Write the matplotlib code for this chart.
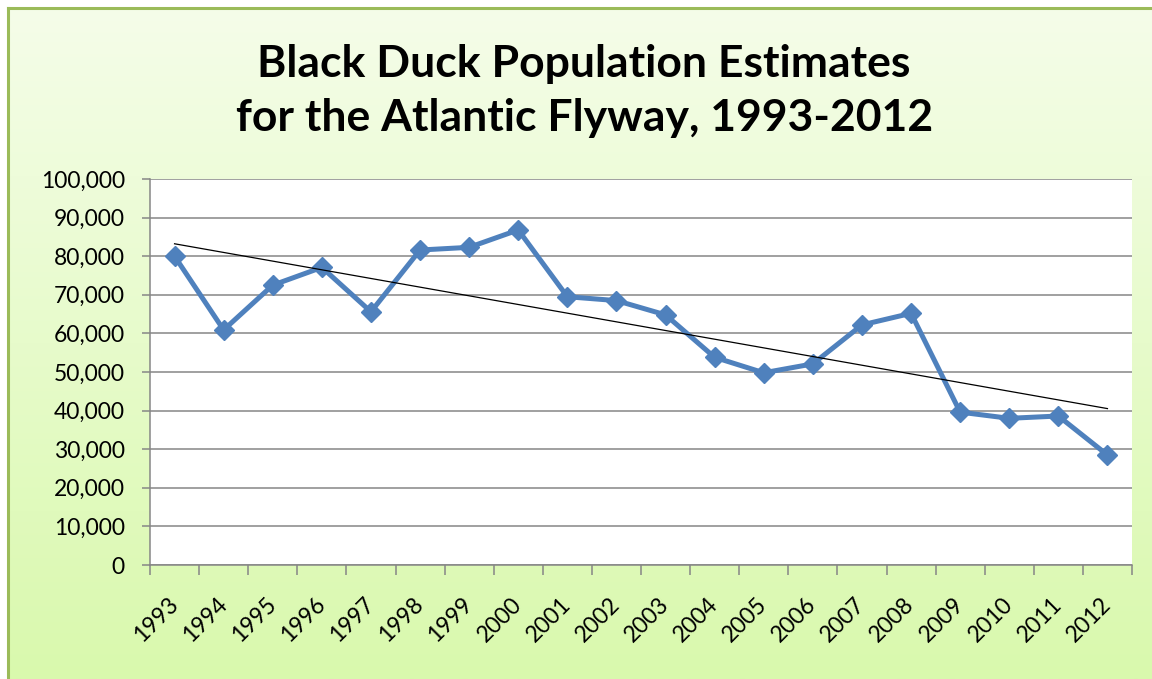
import numpy as np
import matplotlib.pyplot as plt
import matplotlib.ticker as mticker
import matplotlib.transforms as mtransforms
from matplotlib.colors import LinearSegmentedColormap

# ── Dati ──────────────────────────────────────────────────────────────────────
years = ['1993', '1994', '1995', '1996', '1997', '1998', '1999', '2000', '2001', '2002',
         '2003', '2004', '2005', '2006', '2007', '2008', '2009', '2010', '2011', '2012']
population = [80000, 60900, 72500, 77100, 65600, 81600, 82300, 86800, 69500, 68500,
              64800, 53800, 49800, 52100, 62200, 65200, 39600, 38000, 38600, 28500]

LINE   = '#4f81bd'
GRID   = '#868686'
BORDER = '#9bbb59'
BG_TOP = '#f5fde9'
BG_BOT = '#d9f9ad'

plt.rcParams['font.family'] = ['Lato', 'DejaVu Sans']

fig = plt.figure(figsize=(11.52, 6.79), dpi=100)
fig.patch.set_facecolor('white')

# sfondo sfumato con bordo verde (tagliato a destra e in basso)
bg = fig.add_axes([8 / 1152, 0, 1 - 8 / 1152, 1 - 8 / 679])
cmap = LinearSegmentedColormap.from_list('bg', [BG_TOP, BG_BOT])
bg.imshow(np.linspace(0, 1, 256).reshape(-1, 1), aspect='auto', cmap=cmap,
          extent=[0, 1, 0, 1])
bg.set_xlim(0, 1)
bg.set_ylim(0, 1)
bg.set_xticks([])
bg.set_yticks([])
for s in ['right', 'bottom']:
    bg.spines[s].set_visible(False)
for s in ['top', 'left']:
    bg.spines[s].set_color(BORDER)
    bg.spines[s].set_linewidth(2.2)

fig.text(0.507, 1 - 91 / 679, 'Black Duck Population Estimates\nfor the Atlantic Flyway, 1993-2012',
         ha='center', va='center', fontsize=32, fontweight='bold',
         color='black', linespacing=1.4)

# ── Grafico ───────────────────────────────────────────────────────────────────
ax = fig.add_axes([150 / 1152, 1 - 565 / 679, (1132 - 150) / 1152, (565 - 179) / 679])
ax.set_facecolor('white')

x = np.arange(len(years))
y = np.array(population)

ax.plot(x, y, color=LINE, linewidth=3.6, marker='D', markersize=10,
        markerfacecolor=LINE, markeredgecolor=LINE, zorder=3)

# tendenza lineare
a, b = np.polyfit(x, y, 1)
ax.plot(x, a * x + b, color='black', linewidth=0.9, zorder=4)

ax.set_xlim(-0.5, len(years) - 0.5)
ax.set_ylim(0, 100000)
ax.yaxis.set_major_locator(mticker.MultipleLocator(10000))
ax.yaxis.set_major_formatter(mticker.FuncFormatter(lambda v, _: f'{int(v):,}'))
ax.grid(axis='y', color=GRID, linewidth=1.1, zorder=0)
ax.set_axisbelow(True)

ax.set_xticks(x)
ax.set_xticklabels(years, rotation=45, ha='right', va='center', rotation_mode='anchor')
shift = mtransforms.ScaledTranslation(-6 / 100, 0, fig.dpi_scale_trans)
for lbl in ax.get_xticklabels():
    lbl.set_transform(lbl.get_transform() + shift)
ax.set_xticks(np.arange(-0.5, len(years)), minor=True)
ax.tick_params(axis='x', which='major', length=0, pad=26, labelsize=16.5)
ax.tick_params(axis='x', which='minor', length=7, width=1.1, color=GRID, direction='out')
ax.tick_params(axis='y', length=6, width=1.1, color=GRID, pad=12, labelsize=16.5)

ax.spines[['top', 'right']].set_visible(False)
for s in ['left', 'bottom']:
    ax.spines[s].set_color(GRID)
    ax.spines[s].set_linewidth(1.1)

fig.savefig('out.png', dpi=100, facecolor='white')
